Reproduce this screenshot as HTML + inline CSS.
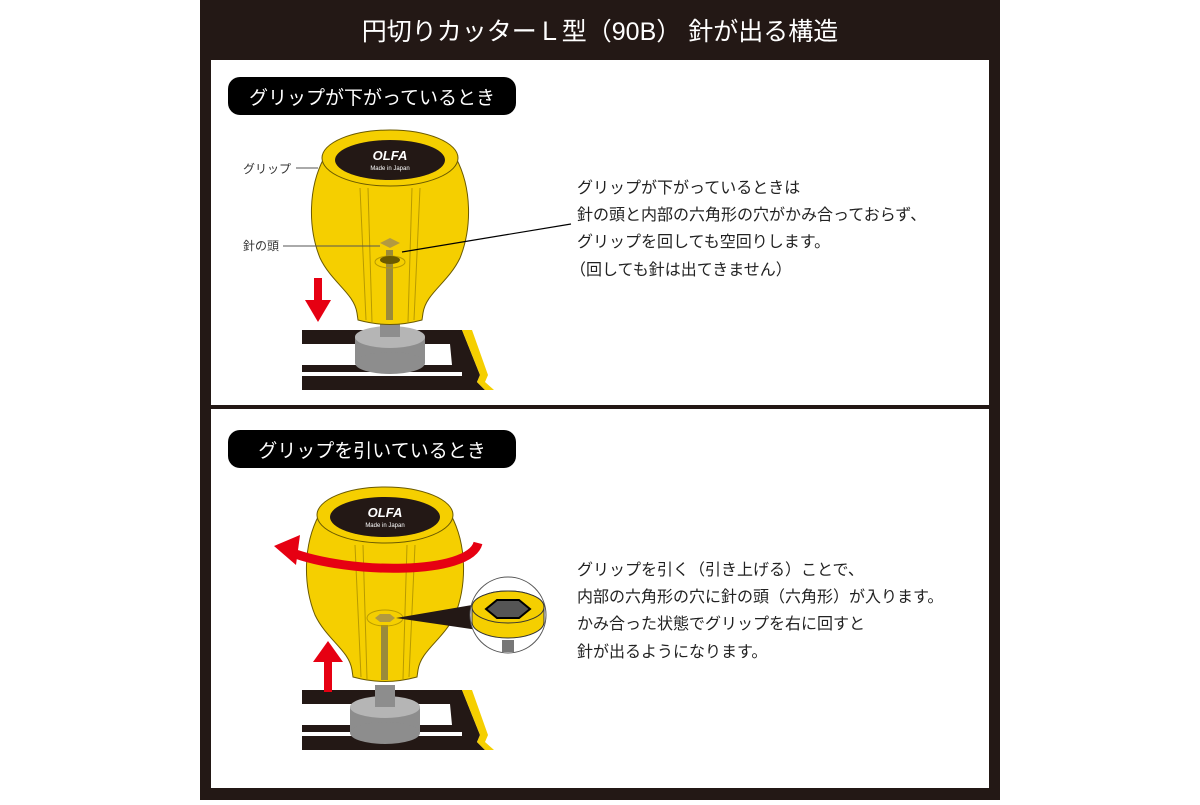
<!DOCTYPE html>
<html><head><meta charset="utf-8"><style>
html,body{margin:0;padding:0;background:#fff;}
body{width:1200px;height:800px;overflow:hidden;}
svg text{font-family:"Liberation Sans","Noto Sans CJK JP",sans-serif;}
</style></head><body>
<svg width="1200" height="800" viewBox="0 0 1200 800" xmlns="http://www.w3.org/2000/svg">
<defs>
<g id="grip">
  <path d="M-66,0 C-82,30 -82,70 -70,100 C-58,125 -36,135 -33,155 L-32,162 C-10,168 10,168 32,162 L33,155 C36,135 58,125 70,100 C82,70 82,30 66,0 Z" fill="#f5cf00" stroke="#6b5a00" stroke-width="1"/>
  <line x1="-30" y1="30" x2="-24" y2="162" stroke="#b89a00" stroke-width="1"/>
  <line x1="-22" y1="30" x2="-18" y2="164" stroke="#b89a00" stroke-width="1"/>
  <line x1="30" y1="30" x2="24" y2="162" stroke="#b89a00" stroke-width="1"/>
  <line x1="22" y1="30" x2="18" y2="164" stroke="#b89a00" stroke-width="1"/>
  <ellipse cx="0" cy="0" rx="68" ry="28" fill="#f5cf00" stroke="#6b5a00"/>
  <ellipse cx="0" cy="2" rx="55" ry="20" fill="#231815"/>
  <text x="0" y="2" font-size="13" font-weight="bold" fill="#fff" text-anchor="middle" font-style="italic">OLFA</text>
  <text x="0" y="12" font-size="6" fill="#fff" text-anchor="middle">Made in Japan</text>
</g>
<g id="plate">
  <path d="M0,0 H160 L178,45 L175,52 L183,60 H0 V46 H160 V42 H0 V35 H150 L148,14 H0 Z" fill="#231815"/>
  <path d="M160,0 H170 L186,45 L183,52 L192,60 H183 L175,52 L178,45 Z" fill="#f5cf00"/>
  <rect x="100" y="14" width="46" height="21" rx="10" fill="#fff"/>
</g>
<g id="knob">
  <rect x="-35" y="0" width="70" height="26" fill="#8d8d8d"/>
  <ellipse cx="0" cy="26" rx="35" ry="11" fill="#8d8d8d"/>
  <ellipse cx="0" cy="0" rx="35" ry="11" fill="#b5b5b5"/>
  <rect x="-10" y="-22" width="20" height="22" fill="#8d8d8d"/>
</g>
</defs>
<rect x="200" y="0" width="800" height="800" fill="#231815"/>
<rect x="211" y="60" width="778" height="345" fill="#fff"/>
<rect x="211" y="409" width="778" height="379" fill="#fff"/>
<text x="600" y="40" font-size="25" fill="#fff" text-anchor="middle">円切りカッターＬ型（90B） 針が出る構造</text>

<rect x="228" y="77" width="288" height="38" rx="12" fill="#000"/>
<text x="372" y="104" font-size="19" fill="#fff" text-anchor="middle">グリップが下がっているとき</text>
<rect x="228" y="430" width="288" height="38" rx="12" fill="#000"/>
<text x="372" y="457" font-size="19" fill="#fff" text-anchor="middle">グリップを引いているとき</text>

<!-- top -->
<use href="#plate" x="302" y="330"/>
<use href="#knob" x="390" y="337"/>
<use href="#grip" x="390" y="158"/>
<rect x="386" y="250" width="7" height="70" fill="#9b8a3a"/>
<ellipse cx="390" cy="262" rx="15" ry="6" fill="none" stroke="#b89a00"/>
<ellipse cx="390" cy="260" rx="10" ry="4" fill="#6b5a00"/>
<polygon points="380,243 390,238 400,243 390,248" fill="#b29a40"/>
<rect x="314" y="278" width="8" height="25" fill="#e60012"/>
<polygon points="305,300 331,300 318,322" fill="#e60012"/>
<text x="243" y="173" font-size="12" fill="#333">グリップ</text>
<line x1="296" y1="168" x2="318" y2="168" stroke="#555"/>
<text x="243" y="250" font-size="12" fill="#333">針の頭</text>
<line x1="283" y1="246" x2="380" y2="246" stroke="#555"/>
<line x1="402" y1="252" x2="571" y2="224" stroke="#000" stroke-width="1.2"/>
<g font-size="16" fill="#222">
<text x="577" y="193">グリップが下がっているときは</text>
<text x="577" y="220">針の頭と内部の六角形の穴がかみ合っておらず、</text>
<text x="577" y="247">グリップを回しても空回りします。</text>
<text x="570" y="275">（回しても針は出てきません）</text>
</g>

<!-- bottom -->
<use href="#plate" x="302" y="690"/>
<use href="#knob" x="385" y="707"/>
<use href="#grip" x="385" y="515"/>
<rect x="381" y="625" width="7" height="55" fill="#9b8a3a"/>
<ellipse cx="385" cy="618" rx="18" ry="8" fill="none" stroke="#b89a00"/>
<polygon points="375,618 380,614 390,614 395,618 390,622 380,622" fill="#b29a40"/>
<path d="M478,543 C470,575 350,575 290,552" fill="none" stroke="#e60012" stroke-width="9"/>
<polygon points="274,546 300,535 296,565" fill="#e60012"/>
<rect x="324" y="660" width="8" height="32" fill="#e60012"/>
<polygon points="313,662 343,662 328,641" fill="#e60012"/>
<polygon points="396,618 478,604 478,630" fill="#231815"/>
<circle cx="508" cy="615" r="38" fill="#fff" stroke="#555"/>
<rect x="502" y="640" width="12" height="12" fill="#777"/>
<path d="M472,607 A36,16 0 0 1 544,607 L544,622 A36,16 0 0 1 472,622 Z" fill="#f5cf00" stroke="#333"/>
<ellipse cx="508" cy="607" rx="36" ry="16" fill="#f5cf00" stroke="#333"/>
<polygon points="486,609 497,600 519,600 530,609 519,618 497,618" fill="#555" stroke="#000" stroke-width="2"/>
<g font-size="16" fill="#222">
<text x="577" y="575">グリップを引く（引き上げる）ことで、</text>
<text x="577" y="602">内部の六角形の穴に針の頭（六角形）が入ります。</text>
<text x="577" y="629">かみ合った状態でグリップを右に回すと</text>
<text x="577" y="657">針が出るようになります。</text>
</g>
</svg>
</body></html>
